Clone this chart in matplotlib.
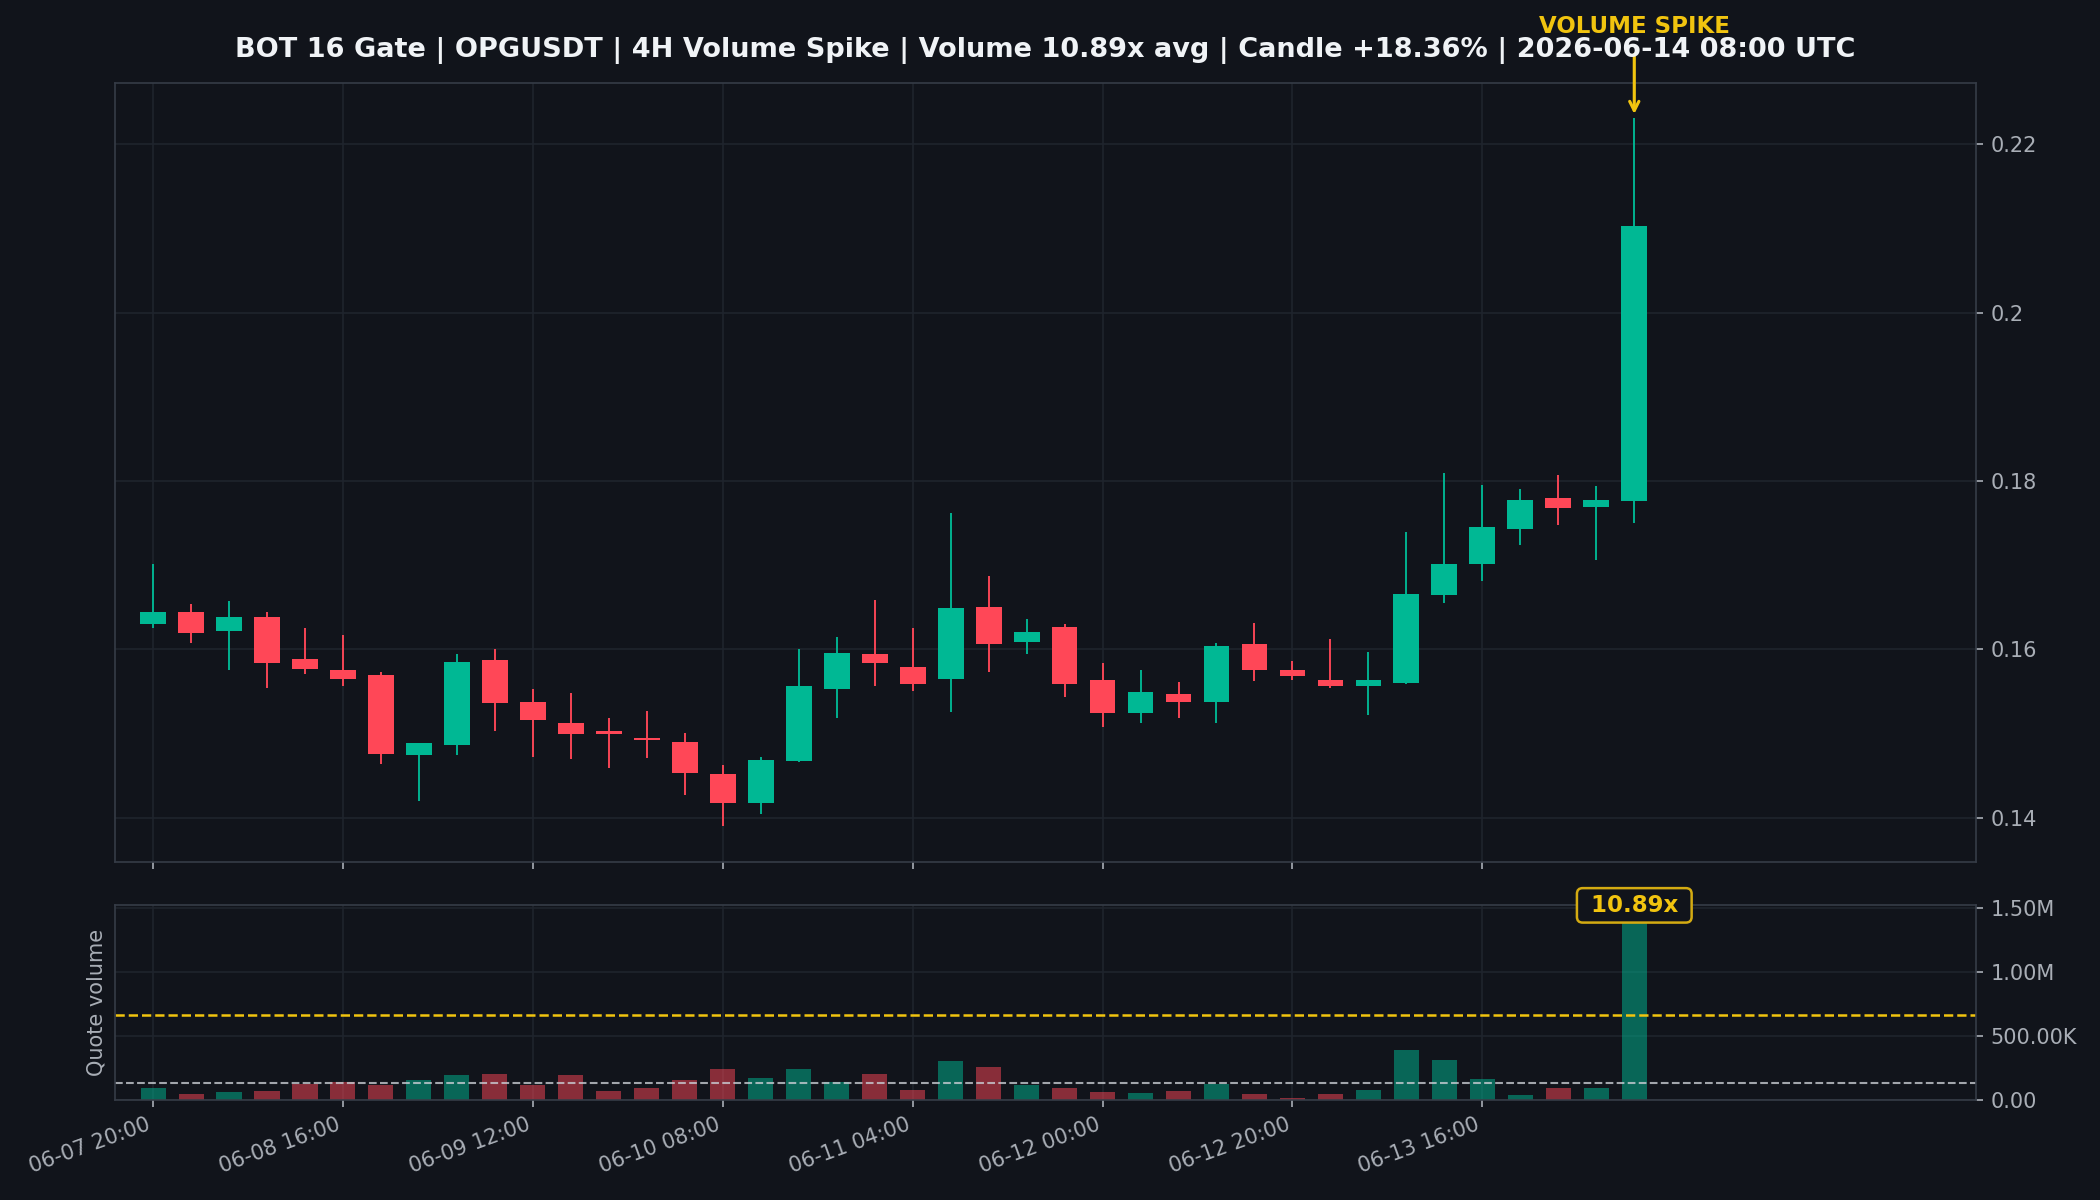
import numpy as np
import pandas as pd
import matplotlib
matplotlib.use('Agg')
import matplotlib.pyplot as plt
from matplotlib.ticker import MultipleLocator, FuncFormatter, FixedLocator

# 4H candles, OPGUSDT
times = pd.date_range('2026-06-07 20:00', periods=40, freq='4h')

opens = [0.1630, 0.1644, 0.1622, 0.1638, 0.1588, 0.1576, 0.1569, 0.1475, 0.1486, 0.1587,
         0.1537, 0.1512, 0.1503, 0.1495, 0.1490, 0.1452, 0.1418, 0.1467, 0.1553, 0.1595,
         0.1579, 0.1565, 0.1650, 0.1609, 0.1626, 0.1564, 0.1525, 0.1547, 0.1538, 0.1606,
         0.1575, 0.1564, 0.1556, 0.1560, 0.1665, 0.1702, 0.1743, 0.1780, 0.1769, 0.1776]
closes = [0.1644, 0.1619, 0.1639, 0.1584, 0.1577, 0.1565, 0.1476, 0.1489, 0.1585, 0.1536,
          0.1516, 0.1499, 0.1499, 0.1492, 0.1453, 0.1418, 0.1469, 0.1557, 0.1596, 0.1584,
          0.1559, 0.1649, 0.1606, 0.1621, 0.1559, 0.1525, 0.1549, 0.1538, 0.1604, 0.1575,
          0.1568, 0.1557, 0.1564, 0.1666, 0.1702, 0.1745, 0.1778, 0.1768, 0.1777, 0.2103]
highs = [0.1701, 0.1654, 0.1657, 0.1644, 0.1625, 0.1617, 0.1573, 0.1489, 0.1594, 0.1600,
         0.1553, 0.1548, 0.1519, 0.1527, 0.1501, 0.1463, 0.1472, 0.1600, 0.1615, 0.1659,
         0.1625, 0.1762, 0.1687, 0.1636, 0.1630, 0.1584, 0.1576, 0.1561, 0.1608, 0.1631,
         0.1586, 0.1612, 0.1597, 0.1740, 0.1810, 0.1795, 0.1790, 0.1807, 0.1794, 0.2231]
lows = [0.1625, 0.1608, 0.1575, 0.1554, 0.1571, 0.1556, 0.1464, 0.1420, 0.1474, 0.1503,
        0.1472, 0.1470, 0.1459, 0.1471, 0.1427, 0.1390, 0.1404, 0.1466, 0.1519, 0.1556,
        0.1551, 0.1526, 0.1573, 0.1595, 0.1544, 0.1508, 0.1512, 0.1518, 0.1512, 0.1563,
        0.1564, 0.1554, 0.1522, 0.1559, 0.1655, 0.1681, 0.1724, 0.1748, 0.1706, 0.1750]
volumes = [93e3, 47e3, 62e3, 72e3, 129e3, 140e3, 119e3, 155e3, 196e3, 204e3,
           119e3, 196e3, 72e3, 93e3, 155e3, 240e3, 171e3, 240e3, 140e3, 204e3,
           78e3, 302e3, 256e3, 116e3, 93e3, 62e3, 54e3, 70e3, 127e3, 47e3,
           16e3, 47e3, 78e3, 388e3, 310e3, 163e3, 39e3, 93e3, 93e3, 1448e3]

avg_volume = 133e3
spike_threshold = 5.0
spike_ratio = 10.89
candle_pct = 18.36

BG = '#11141b'
GRID = '#1f242d'
SPINE = '#363c47'
TXT = '#a9aeb6'
GREEN = '#00b894'
RED = '#ff4757'
YELLOW = '#f1c40f'

o = np.array(opens)
c = np.array(closes)
h = np.array(highs)
l = np.array(lows)
v = np.array(volumes)
x = np.arange(len(o))
up = c >= o
cols = np.where(up, GREEN, RED)

fig, (ax, axv) = plt.subplots(2, 1, figsize=(14, 8), dpi=150, sharex=True,
                              gridspec_kw={'height_ratios': [4, 1]})
fig.patch.set_facecolor(BG)
fig.subplots_adjust(left=0.0548, right=0.941, top=0.931, bottom=0.0833, hspace=0.09)

for a in (ax, axv):
    a.set_facecolor(BG)
    for s in a.spines.values():
        s.set_color(SPINE)
    a.tick_params(colors=TXT, labelsize=10)
    a.yaxis.tick_right()
    a.grid(True, color=GRID, linewidth=0.8)
    a.set_axisbelow(True)

# candles
ax.vlines(x, l, h, colors=cols, linewidth=0.9)
ax.bar(x, np.abs(c - o), bottom=np.minimum(o, c), width=0.68, color=cols)
ax.yaxis.set_major_locator(MultipleLocator(0.02))
ax.yaxis.set_major_formatter(FuncFormatter(lambda val, _: f'{val:g}'))

ax.annotate('VOLUME SPIKE', xy=(x[-1], h[-1]), xytext=(0, 44), textcoords='offset points',
            ha='center', va='center', color=YELLOW, fontsize=11, fontweight='bold',
            annotation_clip=False,
            arrowprops=dict(arrowstyle='->', color=YELLOW, lw=1.5, shrinkA=6, shrinkB=2))

ax.set_title(f'BOT 16 Gate | OPGUSDT | 4H Volume Spike | Volume {spike_ratio:.2f}x avg | '
             f'Candle +{candle_pct:.2f}% | {times[-1]:%Y-%m-%d %H:%M} UTC',
             color='#f0f3f6', fontsize=13, fontweight='bold', pad=12.5)

# volume
axv.bar(x, v, width=0.66, color=cols, alpha=0.5)
axv.axhline(avg_volume, color='#c8ccd2', linestyle='--', linewidth=1.0, alpha=0.8)
axv.axhline(avg_volume * spike_threshold, color=YELLOW, linestyle='--', linewidth=1.2)
vtop = v.max() * 1.05
axv.set_ylim(0, vtop)
axv.yaxis.set_major_locator(FixedLocator([0, 0.5e6, 1.0e6, 1.5e6]))


def vol_fmt(val, _):
    if val >= 1e6:
        return f'{val / 1e6:.2f}M'
    if val >= 1e3:
        return f'{val / 1e3:.2f}K'
    return f'{val:.2f}'


axv.yaxis.set_major_formatter(FuncFormatter(vol_fmt))
axv.set_ylabel('Quote volume', color=TXT, fontsize=10)
axv.yaxis.set_label_position('left')
axv.text(x[-1], vtop, f' {spike_ratio:.2f}x ', ha='center', va='center', color=YELLOW,
         fontsize=11, fontweight='bold', clip_on=False,
         bbox=dict(boxstyle='round,pad=0.25', fc=BG, ec='#d4ab12', lw=1.2))

ticks = x[::5]
axv.set_xticks(ticks)
axv.set_xticklabels([f'{t:%m-%d %H:%M}' for t in times[::5]], rotation=20, ha='right')
axv.set_xlim(-1, len(x) + 8)

plt.savefig('out.png', dpi=150, facecolor=BG)
